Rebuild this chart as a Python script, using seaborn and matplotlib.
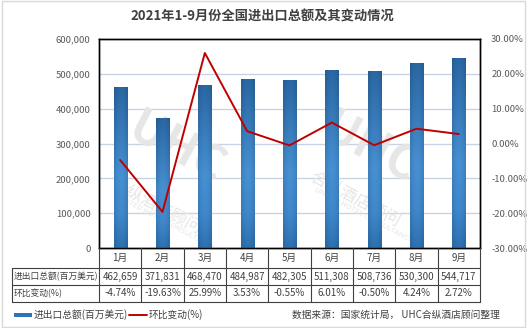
import numpy as np
import pandas as pd
import matplotlib
matplotlib.use("Agg")
import matplotlib.pyplot as plt
import seaborn as sns
from matplotlib.lines import Line2D
from matplotlib.patches import Rectangle
from matplotlib.transforms import blended_transform_factory
from matplotlib.colors import LinearSegmentedColormap

months = ["1月", "2月", "3月", "4月", "5月", "6月", "7月", "8月", "9月"]
totals = [462659, 371831, 468470, 484987, 482305, 511308, 508736, 530300, 544717]
changes = [-4.74, -19.63, 25.99, 3.53, -0.55, 6.01, -0.50, 4.24, 2.72]
title = "2021年1-9月份全国进出口总额及其变动情况"
row_labels = ["进出口总额(百万美元)", "环比变动(%)"]
legend_labels = ["进出口总额(百万美元)", "环比变动(%)"]
source_text = "数据来源：国家统计局， UHC合纵酒店顾问整理"

sns.set_theme(style="white")
plt.rcParams['font.family'] = ['Noto Sans CJK SC', 'DejaVu Sans']
plt.rcParams['axes.unicode_minus'] = False

W, H = 527, 328
fig = plt.figure(figsize=(W / 100, H / 100), dpi=100)
fig.patch.set_facecolor("white")

def fx(px):
    return px / W

def fy(py):
    return 1 - py / H

left, right, top, bottom = 99, 480, 39, 248
ax = fig.add_axes([fx(left), fy(bottom), fx(right - left), fy(top) - fy(bottom)])

df = pd.DataFrame({"month": months, "total": totals, "change": changes})
sns.barplot(data=df, x="month", y="total", ax=ax, width=0.31, color="#3a80c4",
            saturation=1, zorder=3, edgecolor="#7fb0e0", linewidth=0.6)
ax.set_xlim(-0.5, len(months) - 0.5)
ax.set_ylim(0, 600000)
ax.set_yticks(np.arange(0, 600001, 100000))
ax.set_yticklabels([f"{v:,}" for v in np.arange(0, 600001, 100000)])
ax.set_xticklabels([])
ax.set_xlabel("")
ax.set_ylabel("")
ax.tick_params(axis="y", length=0, pad=6, labelsize=6.8, labelcolor="#595959")
ax.tick_params(axis="x", length=0)
for y in range(100000, 600000, 100000):
    ax.axhline(y, color="#c8d4e5", lw=1, zorder=1)
for s in ax.spines.values():
    s.set_color("black")
    s.set_linewidth(1)

# gradient fill for bars (dark top, lighter middle, slightly darker bottom)
cmap = LinearSegmentedColormap.from_list(
    "g", [(0, "#2a67a3"), (0.55, "#4690d3"), (0.8, "#3f88cc"), (1, "#2e71b1")])
vert = np.linspace(0, 1, 200)[:, None]
horiz = np.abs(np.linspace(-1, 1, 40))[None, :]
grad = np.clip(vert, 0, 1) + 0 * horiz
shade = horiz ** 2 * 0.12
for p in ax.patches:
    x0, y0 = p.get_x(), p.get_y()
    w, h = p.get_width(), p.get_height()
    rgba = cmap(grad)
    rgba[..., :3] = np.clip(rgba[..., :3] * (1 - shade[..., None]), 0, 1)
    im = ax.imshow(rgba, extent=[x0, x0 + w, y0, y0 + h], origin="upper",
                   aspect="auto", zorder=4, interpolation="bilinear")
    im.set_clip_path(p)
ax.set_xlim(-0.5, len(months) - 0.5)
ax.set_ylim(0, 600000)

# watermark (behind bars)
wm = "#e6e6e6"
for (ux, uy), (cx, cy), (ex, ey) in [((1.34, 285000), (0.85, 120000), (1.05, 75000)),
                                     ((5.9, 285000), (5.55, 140000), (5.75, 95000))]:
    ax.text(ux, uy, "UHC", fontsize=34, fontweight="bold", fontstyle="italic", color=wm,
            rotation=-28, ha="center", va="center", zorder=2)
    ax.text(cx, cy, "合纵酒店顾问", fontsize=12, color=wm,
            rotation=-28, ha="center", va="center", zorder=2)
    ax.text(ex, ey, "UNITED HOTEL CONSULTANCY", fontsize=5.5, color=wm,
            rotation=-28, ha="center", va="center", zorder=2)

ax2 = ax.twinx()
sns.lineplot(x=np.arange(len(months)), y=changes, ax=ax2, color="#c00000", lw=1.4, zorder=6)
ax2.set_ylim(-30, 30)
ax2.set_yticks(np.arange(-30, 31, 10))
ax2.set_yticklabels([f"{v:.2f}%" for v in np.arange(-30, 31, 10)])
ax2.tick_params(axis="y", length=0, pad=8, labelsize=6.8, labelcolor="#595959")
ax2.set_ylabel("")
for s in ax2.spines.values():
    s.set_color("black")
    s.set_linewidth(1)

# title
fig.text(fx(262), fy(17), title, ha="center", va="center", fontsize=9.5,
         fontweight="bold", color="#404040")

# table
tr = blended_transform_factory(ax.transData, fig.transFigure)
lc = "#404040"
r0, r1, r2, r3 = 248, 268, 285, 302
tl = 12
n = len(months)
for yy in [r1, r2, r3]:
    fig.add_artist(Line2D([fx(tl), fx(right)], [fy(yy), fy(yy)], color=lc, lw=0.8))
fig.add_artist(Line2D([fx(tl), fx(tl)], [fy(r1), fy(r3)], color=lc, lw=0.8))
for i in range(n + 1):
    xd = i - 0.5
    fig.add_artist(Line2D([xd, xd], [fy(r0), fy(r3)], color=lc, lw=0.8, transform=tr))
fs = 7
for i, m in enumerate(months):
    fig.text(i, fy((r0 + r1) / 2), m, transform=tr, ha="center", va="center",
             fontsize=fs, color="#404040")
    fig.text(i, fy((r1 + r2) / 2), f"{totals[i]:,}", transform=tr, ha="center",
             va="center", fontsize=fs, color="#404040")
    fig.text(i, fy((r2 + r3) / 2), f"{changes[i]:.2f}%", transform=tr, ha="center",
             va="center", fontsize=fs, color="#404040")
fig.text(fx(13.5), fy((r1 + r2) / 2), row_labels[0], ha="left", va="center",
         fontsize=6.3, color="#404040")
fig.text(fx(13.5), fy((r2 + r3) / 2), row_labels[1], ha="left", va="center",
         fontsize=6.3, color="#404040")

# legend
fig.add_artist(Rectangle((fx(14), fy(317)), fx(18), fy(313) - fy(317),
                         facecolor="#2e75b6", edgecolor="none"))
fig.text(fx(34), fy(315), legend_labels[0], ha="left", va="center", fontsize=fs, color="#404040")
fig.add_artist(Line2D([fx(129), fx(147)], [fy(315), fy(315)], color="#c00000", lw=1.4))
fig.text(fx(149), fy(315), legend_labels[1], ha="left", va="center", fontsize=fs, color="#404040")
fig.text(fx(500), fy(315), source_text, ha="right", va="center", fontsize=fs, color="#404040")

# outer border
fig.add_artist(Rectangle((fx(1.5), fy(326.5)), fx(523), fy(1.5) - fy(326.5),
                         facecolor="none", edgecolor="#d9d9d9", lw=1))

fig.savefig("out.png", dpi=100)
